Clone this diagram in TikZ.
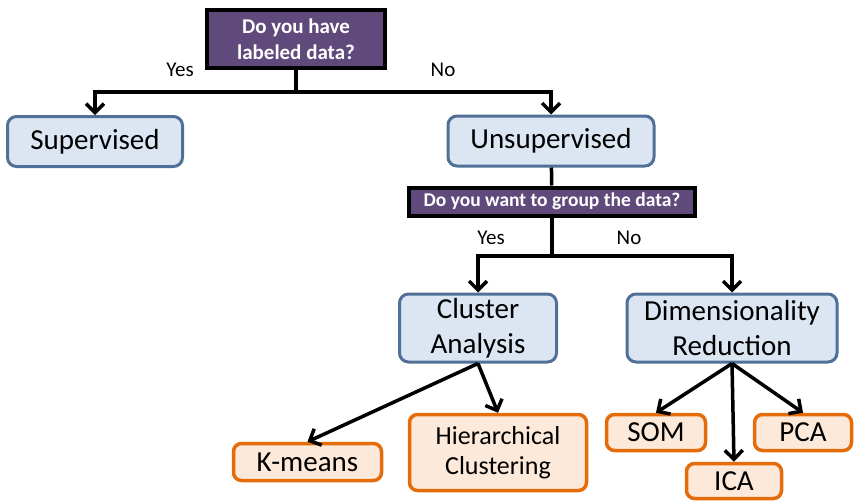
\documentclass[tikz,border=0pt]{standalone}
\usepackage{fontspec}
\setmainfont{Carlito}
\usetikzlibrary{arrows.meta}
\definecolor{askfill}{RGB}{96,74,123}
\definecolor{kindfill}{RGB}{220,230,242}
\definecolor{kindline}{RGB}{80,112,152}
\definecolor{algofill}{RGB}{253,233,217}
\definecolor{algoline}{RGB}{228,108,10}
\tikzset{
    ask/.style={draw=black,line width=4pt,fill=askfill,text=white,align=center,
        inner sep=0pt,font=\bfseries\fontsize{21}{26}\selectfont},
    kind/.style={draw=kindline,line width=3pt,fill=kindfill,rounded corners=9pt,
        align=center,inner sep=0pt,font=\fontsize{29}{35}\selectfont},
    algo/.style={draw=algoline,line width=3.5pt,fill=algofill,rounded corners=8pt,
        align=center,inner sep=0pt,font=\fontsize{29}{30}\selectfont},
    answer/.style={font=\fontsize{21}{24}\selectfont},
    link/.style={line width=3.5pt,-{Straight Barb[length=9pt,width=18pt]}}
}
\begin{document}
\begin{tikzpicture}[x=1pt,y=-1pt]
                    \useasboundingbox(0,0)rectangle(854,501);
                    \coordinate(S1)at(296,92);
                    \coordinate(S2)at(552,256);
                    \node[ask,minimum width=178pt,minimum height=58pt](Q1)at(296,39){Do you have\\labeled data?};
                    \node[kind,minimum width=175pt,minimum height=50pt](Sup)at(95,141.5){Supervised};
                    \node[kind,minimum width=206pt,minimum height=50pt](Unsup)at(551,141){Unsupervised};
                    \node[ask,minimum width=286pt,minimum height=28pt,font=\bfseries\fontsize{19.5}{22}\selectfont](Q2)at(552,201.5){Do you want to group the data?};
                    \node[kind,minimum width=157pt,minimum height=68pt](Clus)at(478,328){Cluster\\Analysis};
                    \node[kind,minimum width=210pt,minimum height=68pt](Dim)at(732,328){Dimensionality\\Reduction};
                    \node[algo,minimum width=148pt,minimum height=37pt](Km)at(307.5,462){K-means};
                    \node[algo,minimum width=177pt,minimum height=76pt,font=\fontsize{26}{30}\selectfont](Hc)at(498,452.5){Hierarchical\\Clustering};
                    \node[algo,minimum width=99pt,minimum height=36pt](Som)at(656,432.5){SOM};
                    \node[algo,minimum width=97pt,minimum height=36pt](Pca)at(803,432.5){PCA};
                    \node[algo,minimum width=95pt,minimum height=35pt](Ica)at(734,481){ICA};
                    \draw[line width=3.5pt](Q1)--(S1);
                    \draw[link](S1)-|(Sup);
                    \draw[link](S1)-|(Unsup);
                    \draw[line width=3.5pt](Unsup)--(Q2);
                    \draw[line width=3.5pt](Q2)--(S2);
                    \draw[link](S2)-|(Clus);
                    \draw[link](S2)-|(Dim);
                    \draw[link](Clus.south)--(Km.north);
                    \draw[link](Clus.south)--(Hc.north);
                    \draw[link](Dim.south)--(Som.north);
                    \draw[link](Dim.south)--(Ica.north);
                    \draw[link](Dim.south)--(Pca.north);
                    \node[answer](Y1)at(180,70){Yes};
                    \node[answer](N1)at(443,70){No};
                    \node[answer](Y2)at(491,238){Yes};
                    \node[answer](N2)at(629,238){No};
                \end{tikzpicture}
\end{document}
